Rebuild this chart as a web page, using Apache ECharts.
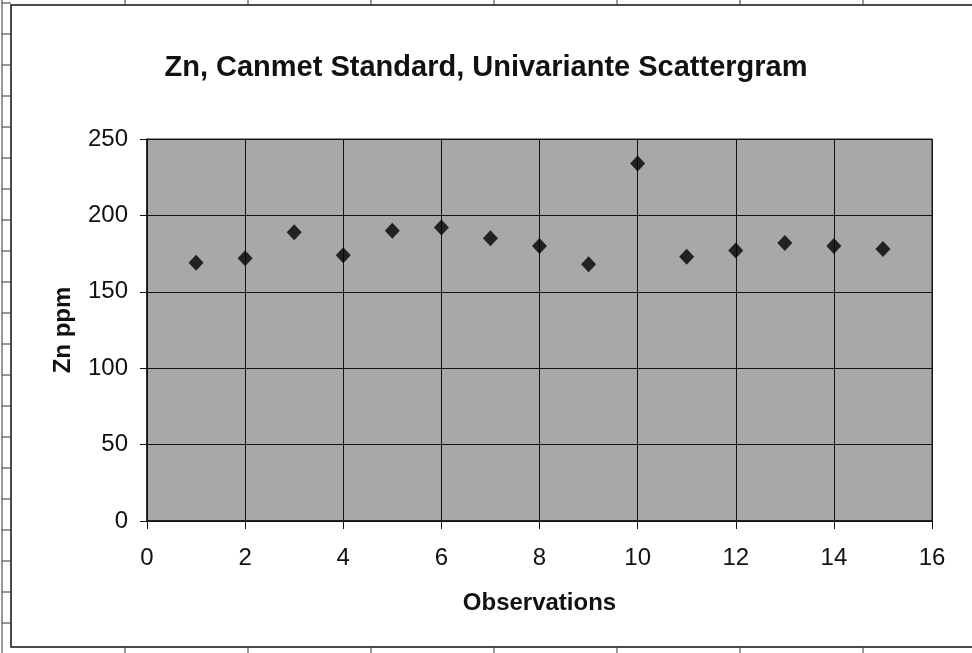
<!DOCTYPE html>
<html>
<head>
<meta charset="utf-8">
<script src="https://cdn.jsdelivr.net/npm/echarts@6/dist/echarts.min.js"></script>
<style>
html,body{margin:0;padding:0;background:#fff;}
#c{width:972px;height:653px;}
</style>
</head>
<body>
<div id="c"></div>
<script>
const titleText = 'Zn, Canmet Standard, Univariante Scattergram';
const xName = 'Observations';
const yName = 'Zn ppm';
const observations = [1,2,3,4,5,6,7,8,9,10,11,12,13,14,15];
const znPpm = [169,172,189,174,190,192,185,180,168,234,173,177,182,180,178];

const points = observations.map((x,i)=>[x, znPpm[i]]);
const FONT = '"Liberation Sans", Arial, sans-serif';

// spreadsheet cell lines around the chart (decoration)
const deco = [];
deco.push({type:'line', shape:{x1:2,y1:0,x2:2,y2:653}, style:{stroke:'#333',lineWidth:1}, silent:true});
for (let y=3; y<653; y+=31) {
  deco.push({type:'line', shape:{x1:2,y1:y,x2:11,y2:y}, style:{stroke:'#333',lineWidth:1}, silent:true});
}
for (let x=125; x<972; x+=123) {
  deco.push({type:'line', shape:{x1:x,y1:0,x2:x,y2:5}, style:{stroke:'#333',lineWidth:1}, silent:true});
  deco.push({type:'line', shape:{x1:x,y1:647,x2:x,y2:653}, style:{stroke:'#333',lineWidth:1}, silent:true});
}
deco.push({type:'rect', shape:{x:11,y:5,width:975,height:642}, style:{fill:'none',stroke:'#111',lineWidth:1.5}, silent:true, z:-1});

const chart = echarts.init(document.getElementById('c'), null, {renderer:'canvas'});
chart.setOption({
  backgroundColor:'#fff',
  animation:false,
  title:{
    text:titleText, left:'center', top:48,
    textStyle:{fontFamily:FONT, fontWeight:'bold', fontSize:29, color:'#111'}
  },
  graphic: deco,
  grid:{left:147, right:40, top:139, bottom:132, show:true, backgroundColor:'#a8a8a8', borderColor:'#222', borderWidth:1},
  xAxis:{
    type:'value', min:0, max:16, interval:2,
    name:xName, nameLocation:'middle', nameGap:70,
    nameTextStyle:{fontFamily:FONT, fontWeight:'bold', fontSize:24, color:'#111'},
    axisLine:{show:true, lineStyle:{color:'#111', width:1.5}},
    axisTick:{show:true, inside:false, length:8, lineStyle:{color:'#111'}},
    axisLabel:{fontFamily:FONT, fontSize:24, color:'#111', margin:25},
    splitLine:{show:true, lineStyle:{color:'#111', width:1}}
  },
  yAxis:{
    type:'value', min:0, max:250, interval:50,
    name:yName, nameLocation:'middle', nameGap:72,
    nameTextStyle:{fontFamily:FONT, fontWeight:'bold', fontSize:24, color:'#111'},
    axisLine:{show:true, lineStyle:{color:'#111', width:1.5}},
    axisTick:{show:true, inside:false, length:7, lineStyle:{color:'#111'}},
    axisLabel:{fontFamily:FONT, fontSize:24, color:'#111', margin:19},
    splitLine:{show:true, lineStyle:{color:'#111', width:1}}
  },
  series:[{
    type:'scatter', data:points, symbol:'diamond', symbolSize:[15,16],
    itemStyle:{color:'#000'}
  }]
});
</script>
</body>
</html>
